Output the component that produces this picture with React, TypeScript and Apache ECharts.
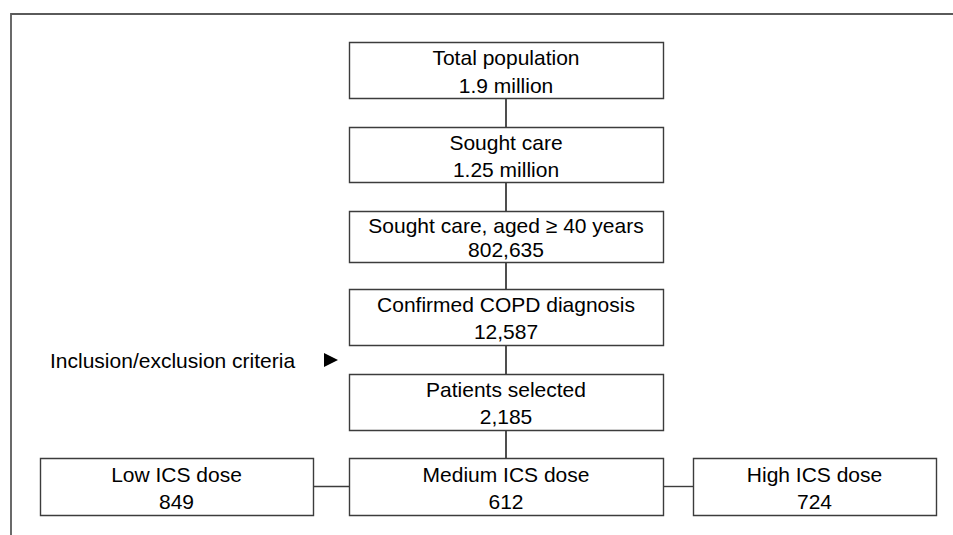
import React, { useEffect, useRef } from "react";
import * as echarts from "echarts";

// Flow-chart content
const mainTitles = [
  "Total population",
  "Sought care",
  "Sought care, aged \u2265 40 years",
  "Confirmed COPD diagnosis",
  "Patients selected",
  "Medium ICS dose",
];
const mainCounts = ["1.9 million", "1.25 million", "802,635", "12,587", "2,185", "612"];
const sideTitles = ["Low ICS dose", "High ICS dose"];
const sideCounts = ["849", "724"];
const criteriaLabel = "Inclusion/exclusion criteria";

// Layout (pixels)
const mainBoxTops = [42, 127, 211, 289, 374, 458];
const mainBoxBottoms = [98, 182, 262, 345, 430, 515];
const MAIN_X0 = 349;
const MAIN_X1 = 663;
const SIDE_BOXES = [
  { x0: 40, x1: 313 },
  { x0: 693, x1: 936 },
];
const FONT = "'Liberation Sans', Arial, Helvetica, sans-serif";
const FONT_SIZE = 21;
const BOX_STROKE = "#3c3c3c";

export default function App() {
  const ref = useRef<HTMLDivElement>(null);

  useEffect(() => {
    if (!ref.current) return;
    const chart = echarts.init(ref.current, undefined, { renderer: "svg" });

    const elements: any[] = [];

    // outer frame (top and left edges)
    elements.push({
      type: "polyline",
      shape: { points: [[11, 535], [11, 14], [953, 14]] },
      style: { stroke: "#5a5a5a", lineWidth: 1.8, fill: null },
    });

    const box = (x0: number, y0: number, x1: number, y1: number, title: string, count: string, lh: number) => {
      elements.push({
        type: "rect",
        shape: { x: x0 + 0.5, y: y0 + 0.5, width: x1 - x0, height: y1 - y0 },
        style: { stroke: BOX_STROKE, lineWidth: 1.4, fill: "#fff" },
      });
      elements.push({
        type: "text",
        x: (x0 + x1) / 2,
        y: (y0 + y1) / 2 + 1,
        style: {
          text: title + "\n" + count,
          fill: "#000",
          font: `${FONT_SIZE}px ${FONT}`,
          fontSize: FONT_SIZE,
          fontFamily: FONT,
          textAlign: "center",
          textVerticalAlign: "middle",
          lineHeight: lh,
        },
      });
    };

    const cx = (MAIN_X0 + MAIN_X1) / 2;
    // vertical connectors
    for (let i = 0; i < mainBoxTops.length - 1; i++) {
      elements.push({
        type: "line",
        shape: { x1: cx, y1: mainBoxBottoms[i], x2: cx, y2: mainBoxTops[i + 1] },
        style: { stroke: "#222", lineWidth: 1.6 },
      });
    }
    // horizontal connectors at the last row
    const lastRowMid = (mainBoxTops[5] + mainBoxBottoms[5]) / 2;
    elements.push({
      type: "line",
      shape: { x1: SIDE_BOXES[0].x1, y1: lastRowMid, x2: MAIN_X0, y2: lastRowMid },
      style: { stroke: BOX_STROKE, lineWidth: 1.4 },
    });
    elements.push({
      type: "line",
      shape: { x1: MAIN_X1, y1: lastRowMid, x2: SIDE_BOXES[1].x0, y2: lastRowMid },
      style: { stroke: BOX_STROKE, lineWidth: 1.4 },
    });

    const lineHeights = [28, 27, 24, 27, 27, 27];
    mainTitles.forEach((t, i) => {
      box(MAIN_X0, mainBoxTops[i], MAIN_X1, mainBoxBottoms[i], t, mainCounts[i], lineHeights[i]);
    });
    sideTitles.forEach((t, i) => {
      box(SIDE_BOXES[i].x0, mainBoxTops[5], SIDE_BOXES[i].x1, mainBoxBottoms[5], t, sideCounts[i], 27);
    });

    // criteria label with arrow
    elements.push({
      type: "text",
      x: 50,
      y: 360,
      style: {
        text: criteriaLabel,
        fill: "#000",
        font: `${FONT_SIZE}px ${FONT}`,
        fontSize: FONT_SIZE,
        fontFamily: FONT,
        textAlign: "left",
        textVerticalAlign: "middle",
      },
    });
    elements.push({
      type: "polygon",
      shape: { points: [[324, 353], [338, 360], [324, 367]] },
      style: { fill: "#000" },
    });

    chart.setOption({
      animation: false,
      backgroundColor: "#fff",
      graphic: { elements },
    });

    return () => chart.dispose();
  }, []);

  return <div ref={ref} style={{ width: 953, height: 535, position: "absolute", left: 0, top: 0 }} />;
}
